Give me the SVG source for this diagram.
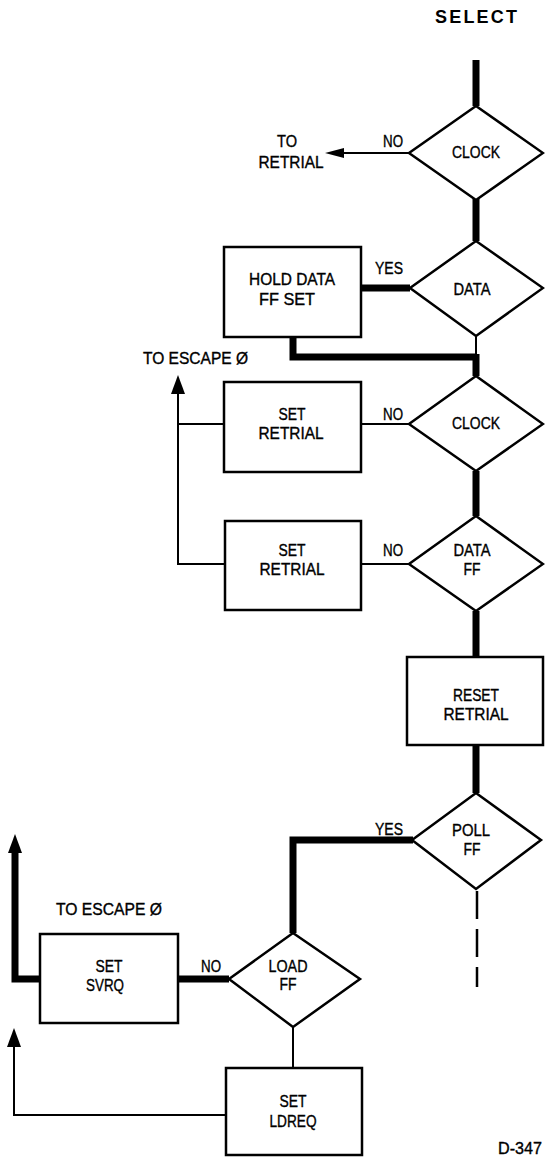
<svg xmlns="http://www.w3.org/2000/svg" width="545" height="1158" viewBox="0 0 545 1158">
<style>
.shape{fill:#fff;stroke:#000;stroke-width:2.5;stroke-linejoin:miter}
.thin{fill:none;stroke:#000;stroke-width:2}
.thick{fill:none;stroke:#000;stroke-width:7;stroke-linejoin:miter}
.dash{fill:none;stroke:#000;stroke-width:2.5;stroke-dasharray:28 10}
text{font-family:"Liberation Sans",Arial,sans-serif;font-size:16px;fill:#000;stroke:#000;stroke-width:0.35}
.c{text-anchor:middle}
.title{font-weight:bold;font-size:18px;stroke-width:0}
</style>
<defs>
<marker id="arr" markerUnits="userSpaceOnUse" markerWidth="20" markerHeight="14" viewBox="0 0 20 14" refX="0" refY="7" orient="auto">
<path d="M0,0 L19,7 L0,14 z" fill="#000"/>
</marker>
<marker id="arrs" markerUnits="userSpaceOnUse" markerWidth="20" markerHeight="10" viewBox="0 0 20 10" refX="0" refY="5" orient="auto">
<path d="M0,0 L19,5 L0,10 z" fill="#000"/>
</marker>
</defs>
<rect width="545" height="1158" fill="#fff"/>

<text class="title c" x="476" y="23" textLength="82" lengthAdjust="spacing">SELECT</text>

<g id="connectors">
<line class="thick" x1="476" y1="60" x2="476" y2="106"/>
<line class="thin" x1="409" y1="153" x2="344" y2="153" marker-end="url(#arrs)"/>
<line class="thick" x1="476" y1="199" x2="476" y2="241"/>
<line class="thick" x1="361" y1="288" x2="410" y2="288"/>
<line class="thin" x1="476" y1="336" x2="476" y2="357"/>
<path class="thick" d="M293,337 V357 H476"/>
<line class="thick" x1="476" y1="354" x2="476" y2="376"/>
<line class="thin" x1="409" y1="424" x2="361" y2="424"/>
<line class="thin" x1="224" y1="424" x2="178" y2="424"/>
<line class="thin" x1="409" y1="564" x2="361" y2="564"/>
<path class="thin" d="M225,564 H178 V394" marker-end="url(#arr)"/>
<line class="thick" x1="476" y1="471" x2="476" y2="516"/>
<line class="thick" x1="476" y1="611" x2="476" y2="657"/>
<line class="thick" x1="476" y1="745" x2="476" y2="793"/>
<path class="thick" d="M413,840 H293 V933"/>
<line class="dash" x1="477" y1="891" x2="477" y2="987"/>
<line class="thick" x1="229" y1="979" x2="178" y2="979"/>
<path class="thick" d="M40,979 H15 V853" marker-end="url(#arr)"/>
<line class="thin" x1="293" y1="1027" x2="293" y2="1068"/>
<path class="thin" d="M226,1115 H14 V1047" marker-end="url(#arr)"/>
</g>

<g id="clock1">
<polygon class="shape" points="476,106 543,153 476,200 409,153"/>
<text class="c" x="476" y="158" textLength="48" lengthAdjust="spacingAndGlyphs">CLOCK</text>
</g>
<g id="to-retrial">
<text class="c" x="287" y="147" textLength="20" lengthAdjust="spacingAndGlyphs">TO</text>
<text class="c" x="291" y="168" textLength="65" lengthAdjust="spacingAndGlyphs">RETRIAL</text>
</g>
<text class="c" x="393" y="147" textLength="20" lengthAdjust="spacingAndGlyphs">NO</text>

<g id="data">
<polygon class="shape" points="476,241 543,288 476,336 410,288"/>
<text class="c" x="472" y="295" textLength="37" lengthAdjust="spacingAndGlyphs">DATA</text>
</g>
<text class="c" x="389" y="274" textLength="28" lengthAdjust="spacingAndGlyphs">YES</text>
<g id="hold-data">
<rect class="shape" x="224" y="247" width="137" height="90"/>
<text class="c" x="292" y="285" textLength="86" lengthAdjust="spacingAndGlyphs">HOLD DATA</text>
<text class="c" x="287" y="305" textLength="56" lengthAdjust="spacingAndGlyphs">FF SET</text>
</g>

<text x="143" y="364" textLength="105" lengthAdjust="spacingAndGlyphs">TO ESCAPE Ø</text>

<g id="clock2">
<polygon class="shape" points="476,376 543,424 476,471 409,424"/>
<text class="c" x="476" y="429" textLength="48" lengthAdjust="spacingAndGlyphs">CLOCK</text>
</g>
<text class="c" x="393" y="420" textLength="20" lengthAdjust="spacingAndGlyphs">NO</text>
<g id="set-retrial1">
<rect class="shape" x="224" y="382" width="137" height="90"/>
<text class="c" x="292" y="420" textLength="27" lengthAdjust="spacingAndGlyphs">SET</text>
<text class="c" x="291" y="439" textLength="65" lengthAdjust="spacingAndGlyphs">RETRIAL</text>
</g>

<g id="data-ff">
<polygon class="shape" points="476,516 543,564 476,611 409,564"/>
<text class="c" x="472" y="556" textLength="37" lengthAdjust="spacingAndGlyphs">DATA</text>
<text class="c" x="472" y="575" textLength="17" lengthAdjust="spacingAndGlyphs">FF</text>
</g>
<text class="c" x="393" y="556" textLength="20" lengthAdjust="spacingAndGlyphs">NO</text>
<g id="set-retrial2">
<rect class="shape" x="225" y="521" width="136" height="89"/>
<text class="c" x="292" y="556" textLength="27" lengthAdjust="spacingAndGlyphs">SET</text>
<text class="c" x="292" y="575" textLength="65" lengthAdjust="spacingAndGlyphs">RETRIAL</text>
</g>

<g id="reset-retrial">
<rect class="shape" x="407" y="657" width="136" height="88"/>
<text class="c" x="476" y="701" textLength="46" lengthAdjust="spacingAndGlyphs">RESET</text>
<text class="c" x="476" y="720" textLength="65" lengthAdjust="spacingAndGlyphs">RETRIAL</text>
</g>

<g id="poll-ff">
<polygon class="shape" points="476,793 541,840 476,889 412,840"/>
<text class="c" x="471" y="836" textLength="38" lengthAdjust="spacingAndGlyphs">POLL</text>
<text class="c" x="472" y="855" textLength="17" lengthAdjust="spacingAndGlyphs">FF</text>
</g>
<text class="c" x="389" y="835" textLength="28" lengthAdjust="spacingAndGlyphs">YES</text>

<text x="56" y="915" textLength="106" lengthAdjust="spacingAndGlyphs">TO ESCAPE Ø</text>

<g id="set-svrq">
<rect class="shape" x="40" y="934" width="138" height="89"/>
<text class="c" x="109" y="972" textLength="27" lengthAdjust="spacingAndGlyphs">SET</text>
<text class="c" x="105" y="991" textLength="38" lengthAdjust="spacingAndGlyphs">SVRQ</text>
</g>
<text class="c" x="211" y="972" textLength="20" lengthAdjust="spacingAndGlyphs">NO</text>

<g id="load-ff">
<polygon class="shape" points="293,933 360,979 293,1027 229,979"/>
<text class="c" x="288" y="972" textLength="39" lengthAdjust="spacingAndGlyphs">LOAD</text>
<text class="c" x="288" y="990" textLength="17" lengthAdjust="spacingAndGlyphs">FF</text>
</g>

<g id="set-ldreq">
<rect class="shape" x="226" y="1068" width="136" height="87"/>
<text class="c" x="293" y="1107" textLength="27" lengthAdjust="spacingAndGlyphs">SET</text>
<text class="c" x="293" y="1127" textLength="47" lengthAdjust="spacingAndGlyphs">LDREQ</text>
</g>

<text x="498" y="1154" textLength="44" lengthAdjust="spacingAndGlyphs">D-347</text>
</svg>
